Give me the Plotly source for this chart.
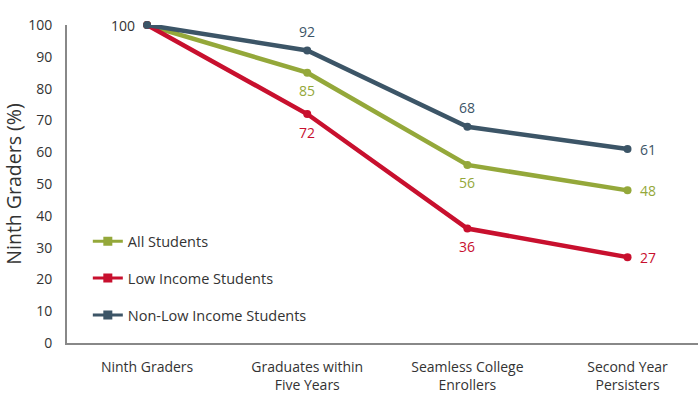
import plotly.graph_objects as go

# Cohort stages and share of ninth graders reaching each stage
stages = ["Ninth Graders", "Graduates within<br>Five Years",
          "Seamless College<br>Enrollers", "Second Year<br>Persisters"]
all_students = [100, 85, 56, 48]
low_income = [100, 72, 36, 27]
non_low_income = [100, 92, 68, 61]

series_names = ["All Students", "Low Income Students", "Non-Low Income Students"]
colors = ["#94a83a", "#c8102e", "#3c5567"]
# Label placement per point: "left", "below", "above", "right" or None
label_side = [
    [None, "below", "below", "right"],
    [None, "below", "below", "right"],
    ["left", "above", "above", "right"],
]
FONT = "Open Sans"
TEXT = "#333333"
shifts = {"left": (-24, 0), "right": (20, 0), "above": (0, 19), "below": (0, -18)}

fig = go.Figure()

x_idx = list(range(len(stages)))
for i, (name, vals, col, sides) in enumerate(
        zip(series_names, [all_students, low_income, non_low_income], colors, label_side)):
    # Legend entry with square marker
    fig.add_trace(go.Scatter(
        x=[None], y=[None], mode="lines+markers", name=name,
        line=dict(color=col, width=3), marker=dict(symbol="square", size=9, color=col),
        legendgroup=name, showlegend=True))
    fig.add_trace(go.Scatter(
        x=x_idx, y=vals, mode="lines+markers", name=name,
        line=dict(color=col, width=4.5), marker=dict(symbol="circle", size=8, color=col),
        legendgroup=name, showlegend=False, cliponaxis=False))
    for xi, v, side in zip(x_idx, vals, sides):
        if side is None:
            continue
        dx, dy = shifts[side]
        fig.add_annotation(
            x=xi, y=v, xref="x", yref="y", text=str(v), showarrow=False,
            xshift=dx, yshift=dy,
            font=dict(family=FONT, size=14, color=TEXT if xi == 0 else col))

fig.update_layout(
    width=698, height=394,
    margin=dict(l=67, r=0, t=25, b=47),
    paper_bgcolor="white", plot_bgcolor="white",
    font=dict(family=FONT, size=14, color=TEXT),
    legend=dict(x=0.033, y=0.370, xanchor="left", yanchor="top",
                bgcolor="rgba(0,0,0,0)", tracegroupgap=15,
                font=dict(family=FONT, size=14.5, color=TEXT)),
    xaxis=dict(range=[-0.5, 3.44], tickmode="array", tickvals=x_idx, ticktext=stages,
               showgrid=False, zeroline=False, showline=True, linecolor="#888888",
               linewidth=2, ticks="", ticklabelstandoff=10,
               tickfont=dict(family=FONT, size=14, color=TEXT)),
    yaxis=dict(range=[0, 100], tickvals=list(range(0, 101, 10)), showgrid=False,
               zeroline=False, showline=True, linecolor="#888888", linewidth=2,
               ticks="", ticklabelstandoff=10,
               title=dict(text="Ninth Graders (%)", standoff=10,
                          font=dict(family=FONT, size=19.5, color=TEXT)),
               tickfont=dict(family=FONT, size=14, color=TEXT)),
)

fig.write_html("out.html")
